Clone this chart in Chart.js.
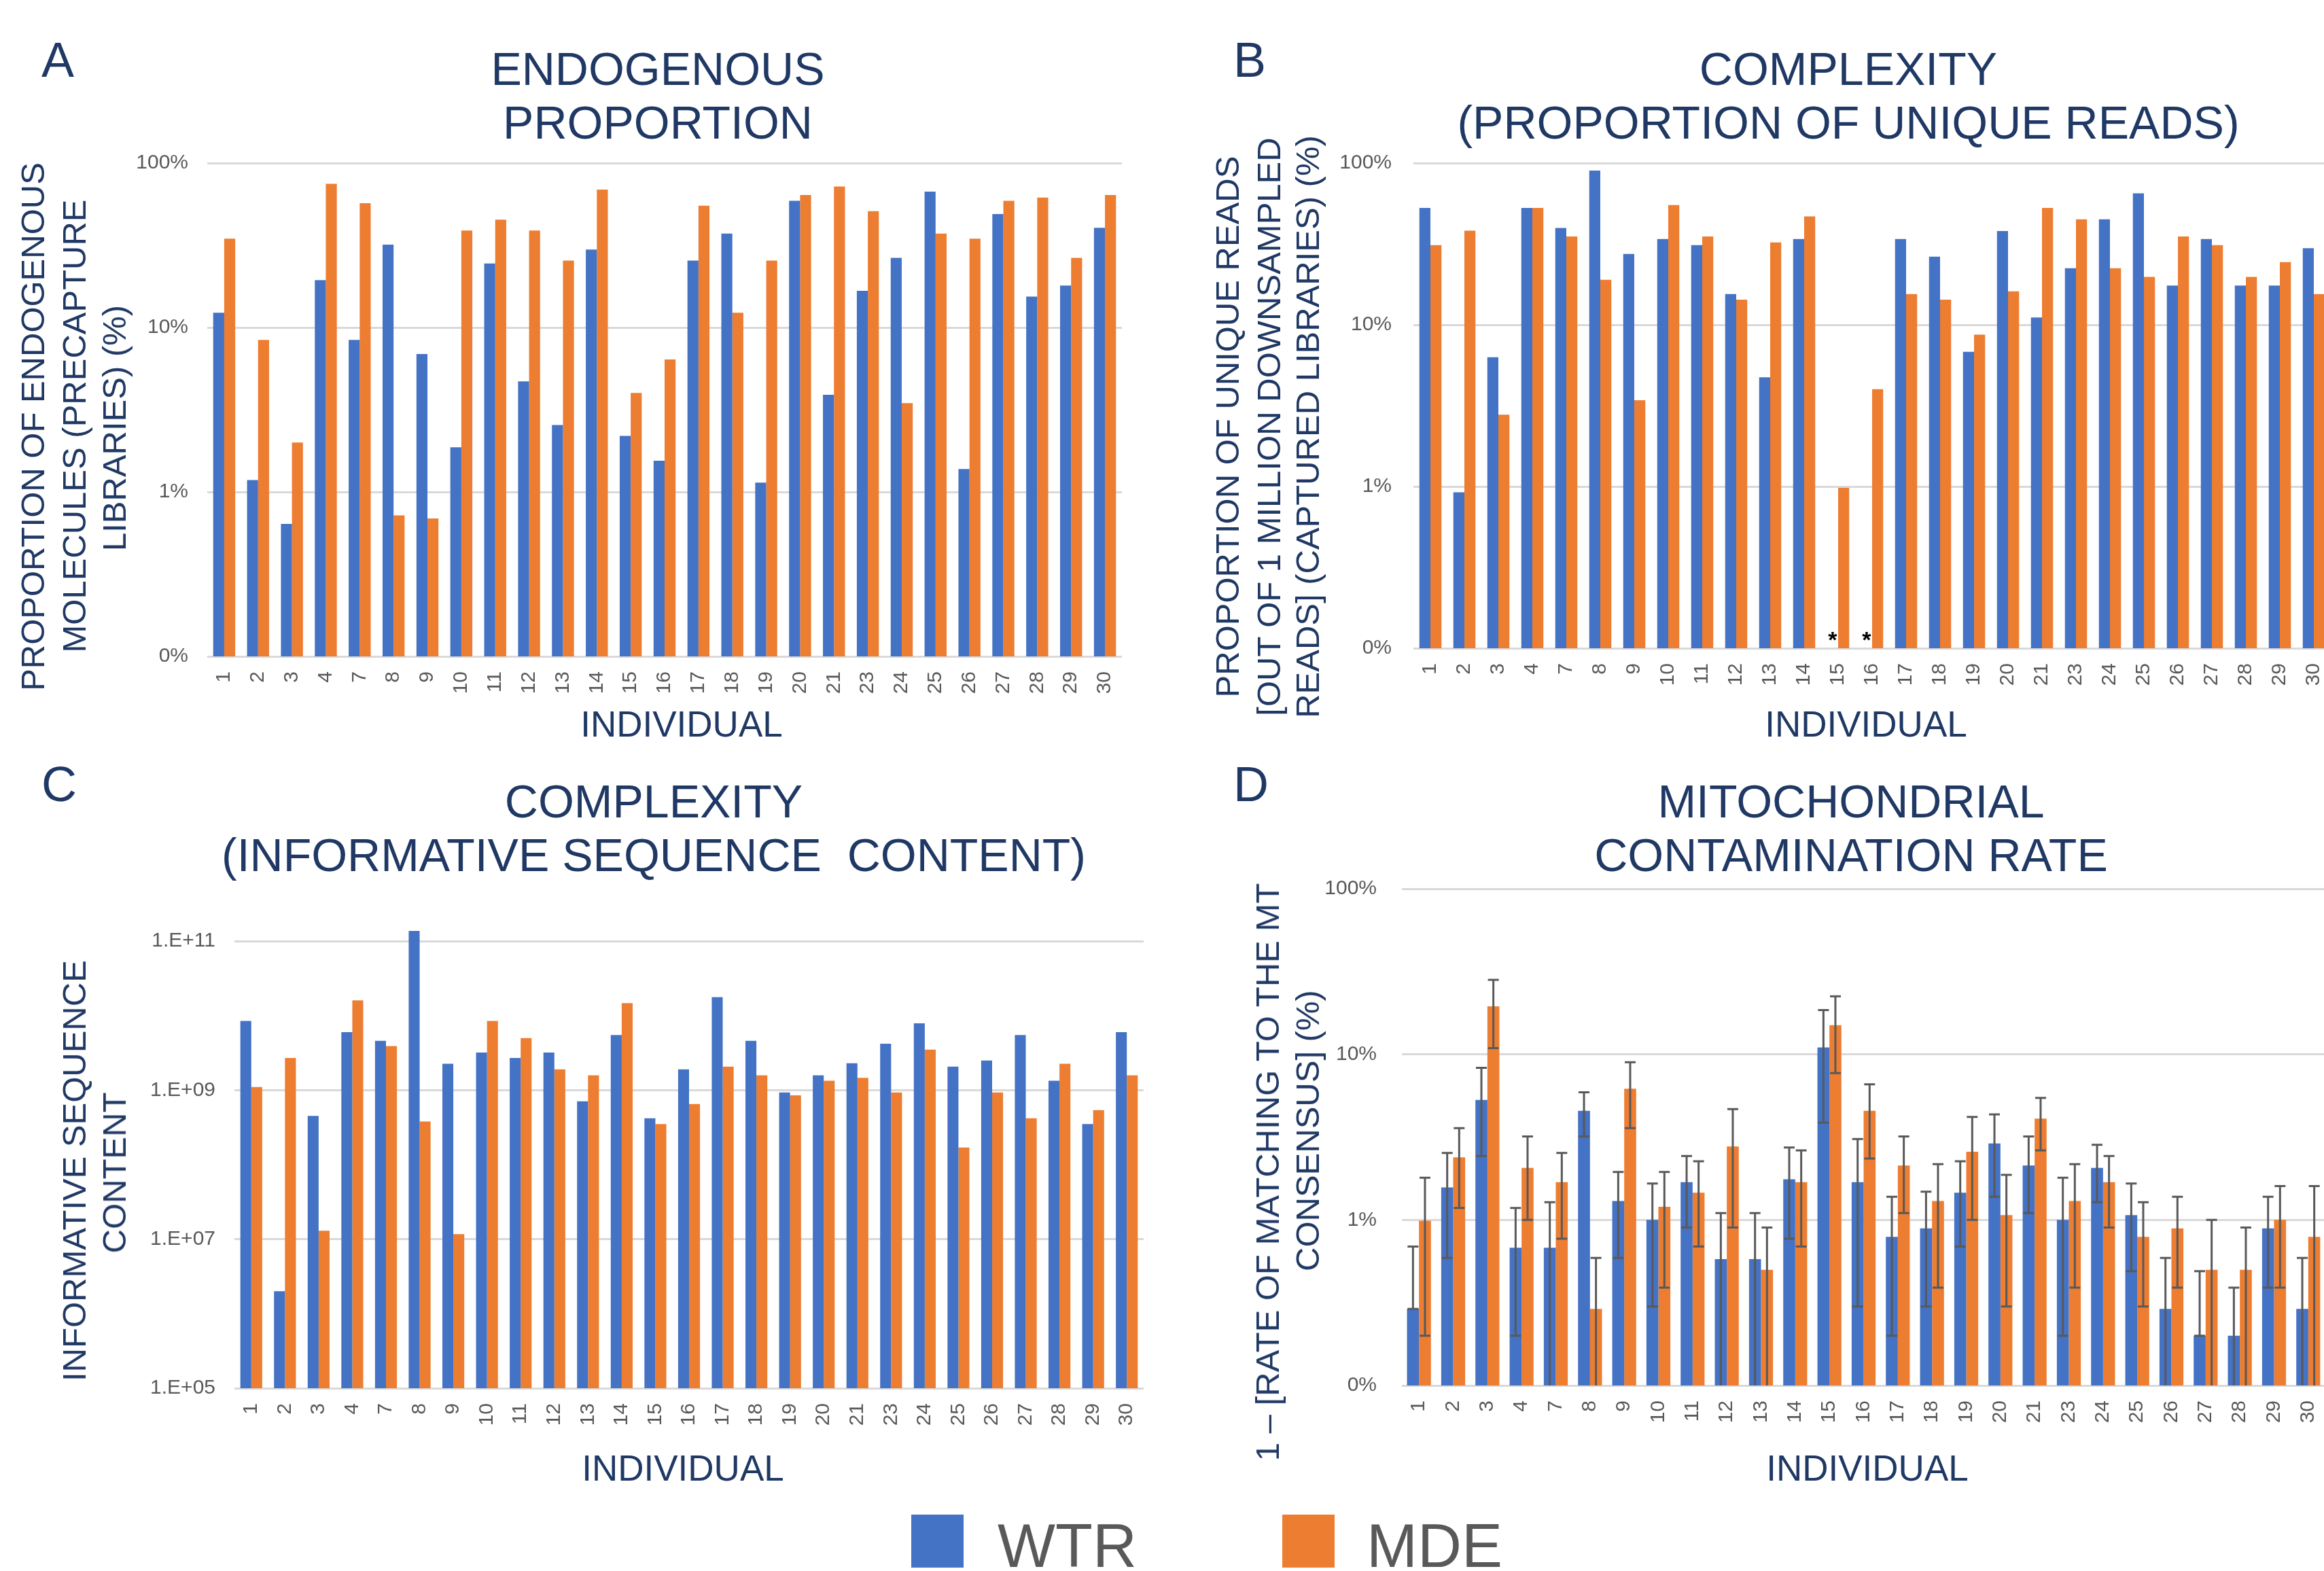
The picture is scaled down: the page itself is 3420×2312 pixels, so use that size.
<!DOCTYPE html>
<html>
<head>
<meta charset="utf-8">
<script src="https://cdn.jsdelivr.net/npm/chart.js@4.4.1/dist/chart.umd.min.js"></script>
<style>
  body { margin: 0; width: 3420px; height: 2312px; overflow: hidden; position: relative; background: #fff;
         font-family: "Liberation Sans", Arial, sans-serif; }
  canvas { position: absolute; }
  .ttl { position: absolute; width: 1600px; text-align: center; color: #1f3864; font-size: 68px; line-height: 79px; white-space: nowrap; }
  .lbl { position: absolute; color: #1f3864; font-size: 72px; line-height: 72px; }
  .ax  { position: absolute; color: #1f3864; white-space: nowrap; transform: translate(-50%, -50%); }
  .xt  { font-size: 53px; line-height: 64px; }
  .yt  { font-size: 49px; line-height: 60px; transform: translate(-50%, -50%) rotate(-90deg); }
  .sw { position: absolute; width: 77px; height: 78px; }
  .lg { position: absolute; color: #595959; font-size: 90px; line-height: 90px; }
</style>
</head>
<body>

<div class="lbl" style="left:61px;top:52px">A</div>
<div class="lbl" style="left:1815px;top:52px">B</div>
<div class="lbl" style="left:61px;top:1118px">C</div>
<div class="lbl" style="left:1815px;top:1118px">D</div>

<div class="ttl" style="left:168px;top:62px">ENDOGENOUS<br>PROPORTION</div>
<div class="ttl" style="left:1920px;top:62px">COMPLEXITY<br>(PROPORTION OF UNIQUE READS)</div>
<div class="ttl" style="left:162px;top:1140px">COMPLEXITY<br>(INFORMATIVE SEQUENCE&nbsp; CONTENT)</div>
<div class="ttl" style="left:1924px;top:1140px">MITOCHONDRIAL<br>CONTAMINATION RATE</div>

<canvas id="chartA"></canvas>
<canvas id="chartB"></canvas>
<canvas id="chartC"></canvas>
<canvas id="chartD"></canvas>

<div class="sw" style="left:1341px;top:2229px;background:#4472c4"></div>
<div class="lg" style="left:1468px;top:2230px">WTR</div>
<div class="sw" style="left:1887px;top:2229px;background:#ed7d31"></div>
<div class="lg" style="left:2011px;top:2230px">MDE</div>

<script>
// --- DATOS ---
const individuals = ['1','2','3','4','7','8','9','10','11','12','13','14','15','16','17','18','19','20','21','23','24','25','26','27','28','29','30'];

// A: endogenous proportion (%)
const endoWTR = [12.3, 1.18, 0.64, 19.4, 8.4, 31.9, 6.9, 1.87, 24.5, 4.7, 2.55, 29.8, 2.19, 1.55, 25.5, 37.3, 1.14, 59, 3.9, 16.7, 26.5, 67, 1.38, 49, 15.4, 18, 40.4];
const endoMDE = [34.7, 8.4, 2.0, 74.8, 57, 0.72, 0.69, 38.9, 45.3, 38.9, 25.5, 69, 4.0, 6.4, 55, 12.3, 25.5, 64, 72, 51, 3.47, 37.3, 34.7, 59, 61.7, 26.5, 64];

// B: unique reads (%), 15 and 16 have no WTR value
const uniqWTR = [52.8, 0.92, 6.3, 52.8, 39.7, 90, 27.4, 33.9, 31.1, 15.5, 4.74, 33.9, null, null, 33.9, 26.4, 6.8, 38, 11.1, 22.4, 44.9, 65, 17.5, 33.9, 17.5, 17.5, 29.8];
const uniqMDE = [31.1, 38.2, 2.78, 52.8, 35.2, 19, 3.42, 55, 35.2, 14.3, 32.3, 46.8, 0.98, 4.0, 15.5, 14.3, 8.7, 16.1, 52.8, 44.9, 22.4, 19.8, 35.2, 31.1, 19.8, 24.4, 15.5];
const uniqMissing = ['15', '16'];

// C: informative sequence content
const infoWTR = [8.5e9, 2.0e6, 4.5e8, 6.0e9, 4.6e9, 1.37e11, 2.26e9, 3.2e9, 2.7e9, 3.2e9, 7.1e8, 5.5e9, 4.2e8, 1.9e9, 1.77e10, 4.6e9, 9.3e8, 1.58e9, 2.3e9, 4.2e9, 7.9e9, 2.07e9, 2.5e9, 5.5e9, 1.34e9, 3.5e8, 6.0e9];
const infoMDE = [1.1e9, 2.7e9, 1.3e7, 1.6e10, 3.9e9, 3.8e8, 1.17e7, 8.5e9, 5.0e9, 1.9e9, 1.58e9, 1.47e10, 3.5e8, 6.5e8, 2.07e9, 1.58e9, 8.5e8, 1.34e9, 1.46e9, 9.3e8, 3.5e9, 1.7e8, 9.3e8, 4.2e8, 2.26e9, 5.4e8, 1.58e9];

// D: mt contamination (%), with error bar ends (0 = runs down to the axis)
const mtWTR     = [0.29, 1.57, 5.3, 0.68, 0.68, 4.56, 1.3, 1.0, 1.69, 0.58, 0.58, 1.76, 11, 1.69, 0.79, 0.89, 1.46, 2.9, 2.13, 1.0, 2.06, 1.07, 0.29, 0.2, 0.2, 0.89, 0.29];
const mtWTRLow  = [0.29, 0.59, 2.43, 0.2, 0, 3.19, 0.59, 0.3, 0.9, 0, 0, 0.77, 3.87, 0.3, 0.2, 0.3, 0.69, 1.38, 1.1, 0.2, 1.28, 0.49, 0, 0.2, 0, 0.39, 0];
const mtWTRHigh = [0.69, 2.54, 8.3, 1.18, 1.28, 5.9, 1.95, 1.66, 2.43, 1.1, 1.1, 2.74, 18.5, 3.08, 1.38, 1.48, 2.26, 4.34, 3.19, 1.8, 2.84, 1.66, 0.59, 0.49, 0.39, 1.38, 0.59];
const mtMDE     = [0.99, 2.39, 19.5, 2.06, 1.69, 0.29, 6.2, 1.2, 1.46, 2.78, 0.5, 1.69, 15, 4.56, 2.13, 1.3, 2.58, 1.07, 4.09, 1.3, 1.69, 0.79, 0.89, 0.5, 0.5, 1.0, 0.79];
const mtMDELow  = [0.2, 1.18, 10.9, 1.0, 0.77, 0, 3.58, 0.39, 0.69, 0.9, 0, 0.69, 7.7, 2.35, 1.1, 0.39, 1.0, 0.3, 2.63, 0.39, 0.9, 0.3, 0.39, 0, 0, 0.39, 0];
const mtMDEHigh = [1.8, 3.58, 28.2, 3.19, 2.54, 0.59, 8.96, 1.95, 2.26, 4.67, 0.9, 2.63, 22.4, 6.6, 3.19, 2.17, 4.19, 1.87, 5.46, 2.17, 2.43, 1.28, 1.38, 1.0, 0.9, 1.6, 1.6];

const pctTicks = [0.1, 1, 10, 100];
const seqTicks = [1e5, 1e7, 1e9, 1e11];

// --- ESTILO ---
const FONT = '"Liberation Sans", Arial, sans-serif';
const GREY = '#595959';
const BLUE = '#4472c4';
const ORANGE = '#ed7d31';

const fmtPct = v => Math.round(v) + '%';
const fmtSci = v => '1.E+' + String(Math.round(Math.log10(v))).padStart(2, '0');

// títulos de ejes (texto real en HTML, centrado en el punto dado)
function axisText(text, cx, cy, vertical) {
    const d = document.createElement('div');
    d.className = 'ax ' + (vertical ? 'yt' : 'xt');
    d.textContent = text;
    d.style.left = cx + 'px';
    d.style.top = cy + 'px';
    document.body.appendChild(d);
}

// barras de error (se dibujan sobre cada barra)
const errorBars = {
    id: 'errorBars',
    afterDatasetsDraw(chart) {
        const y = chart.scales.y, ctx = chart.ctx;
        ctx.save();
        ctx.strokeStyle = GREY;
        ctx.lineWidth = 3;
        chart.data.datasets.forEach((ds, i) => {
            if (!ds.errHigh) return;
            chart.getDatasetMeta(i).data.forEach((bar, j) => {
                const lo = ds.errLow[j], hi = ds.errHigh[j];
                const yHi = y.getPixelForValue(hi);
                const yLo = lo >= y.min ? y.getPixelForValue(lo) : chart.chartArea.bottom;
                ctx.beginPath();
                ctx.moveTo(bar.x, yHi); ctx.lineTo(bar.x, yLo);
                ctx.moveTo(bar.x - 8, yHi); ctx.lineTo(bar.x + 8, yHi);
                if (lo >= y.min) { ctx.moveTo(bar.x - 8, yLo); ctx.lineTo(bar.x + 8, yLo); }
                ctx.stroke();
            });
        });
        ctx.restore();
    }
};

// asteriscos donde falta el valor
const missingMarks = {
    id: 'missingMarks',
    afterDatasetsDraw(chart) {
        const ds = chart.data.datasets[0];
        if (!ds.missing) return;
        const ctx = chart.ctx;
        const other = chart.getDatasetMeta(1).data;
        ctx.save();
        ctx.fillStyle = '#000';
        ctx.font = 'bold 34px ' + FONT;
        ctx.textAlign = 'center';
        ctx.textBaseline = 'middle';
        ds.missing.forEach(lab => {
            const j = chart.data.labels.indexOf(lab);
            const b = other[j];
            ctx.fillText('*', b.x - b.width, chart.chartArea.bottom - 10);
        });
        ctx.restore();
    }
};

function makePanel(id, area, cfg) {
    // el lienzo deja 70px arriba para que la etiqueta superior no empuje el área
    const box = { x: cfg.boxX, y: area.t - 70, w: cfg.boxW, h: cfg.boxBottom - (area.t - 70) };
    const cv = document.getElementById(id);
    cv.width = box.w;
    cv.height = box.h;
    cv.style.left = box.x + 'px';
    cv.style.top = box.y + 'px';
    const yW = area.l - box.x;
    const xH = box.y + box.h - area.b;

    new Chart(cv, {
        type: 'bar',
        data: {
            labels: individuals,
            datasets: [
                { label: 'WTR', data: cfg.wtr, backgroundColor: BLUE, clip: false,
                  errLow: cfg.wtrLow, errHigh: cfg.wtrHigh, missing: cfg.missing },
                { label: 'MDE', data: cfg.mde, backgroundColor: ORANGE, clip: false,
                  errLow: cfg.mdeLow, errHigh: cfg.mdeHigh }
            ]
        },
        options: {
            responsive: false,
            animation: false,
            devicePixelRatio: 1,
            barPercentage: 1,
            categoryPercentage: cfg.cat,
            layout: { padding: { left: 0, top: area.t - box.y, right: box.x + box.w - area.r, bottom: 0 } },
            plugins: { legend: { display: false }, tooltip: { enabled: false } },
            scales: {
                x: {
                    grid: { display: false },
                    border: { display: false },
                    ticks: { color: GREY, font: { family: FONT, size: 30 }, minRotation: 90, maxRotation: 90,
                             autoSkip: false, padding: 14 },
                    afterFit: s => { s.height = xH; }
                },
                y: {
                    type: 'logarithmic',
                    min: cfg.ticks[0],
                    max: cfg.ticks[cfg.ticks.length - 1],
                    afterBuildTicks: s => { s.ticks = cfg.ticks.map(v => ({ value: v })); },
                    grid: { color: '#d9d9d9', lineWidth: 3, drawTicks: false },
                    border: { display: false },
                    ticks: { color: GREY, font: { family: FONT, size: 30 }, padding: cfg.tickPad, callback: cfg.fmt },
                    afterFit: s => { s.width = yW; }
                }
            }
        },
        plugins: [errorBars, missingMarks]
    });

    cfg.yTitle.forEach(t => axisText(t[0], t[1], t[2], true));
    axisText('INDIVIDUAL', cfg.xTitle[0], cfg.xTitle[1], false);
}

makePanel('chartA', { l: 305, t: 240, r: 1651, b: 966 }, {
    boxX: 0, boxW: 1700, boxBottom: 1110,
    wtr: endoWTR, mde: endoMDE, ticks: pctTicks, fmt: fmtPct, cat: 0.65, tickPad: 28,
    yTitle: [['PROPORTION OF ENDOGENOUS', 48, 628], ['MOLECULES (PRECAPTURE', 109, 627], ['LIBRARIES) (%)', 168, 630]],
    xTitle: [1003, 1066]
});

makePanel('chartB', { l: 2080, t: 240, r: 3430, b: 954 }, {
    boxX: 1760, boxW: 1700, boxBottom: 1110,
    wtr: uniqWTR, mde: uniqMDE, missing: uniqMissing, ticks: pctTicks, fmt: fmtPct, cat: 0.65, tickPad: 32,
    yTitle: [['PROPORTION OF UNIQUE READS', 1806, 628], ['[OUT OF 1 MILLION DOWNSAMPLED', 1867, 628], ['READS] (CAPTURED LIBRARIES) (%)', 1924, 628]],
    xTitle: [2746, 1066]
});

makePanel('chartC', { l: 345, t: 1385, r: 1683, b: 2043 }, {
    boxX: 0, boxW: 1720, boxBottom: 2205,
    wtr: infoWTR, mde: infoMDE, ticks: seqTicks, fmt: fmtSci, cat: 0.65, tickPad: 28,
    yTitle: [['INFORMATIVE SEQUENCE', 109, 1723], ['CONTENT', 168, 1726]],
    xTitle: [1005, 2161]
});

makePanel('chartD', { l: 2063, t: 1308, r: 3422, b: 2039 }, {
    boxX: 1760, boxW: 1700, boxBottom: 2205,
    wtr: mtWTR, mde: mtMDE, wtrLow: mtWTRLow, wtrHigh: mtWTRHigh, mdeLow: mtMDELow, mdeHigh: mtMDEHigh,
    ticks: pctTicks, fmt: fmtPct, cat: 0.7, tickPad: 37,
    yTitle: [['1 \u2013 [RATE OF MATCHING TO THE MT', 1865, 1725], ['CONSENSUS] (%)', 1924, 1664]],
    xTitle: [2748, 2161]
});
</script>
</body>
</html>
